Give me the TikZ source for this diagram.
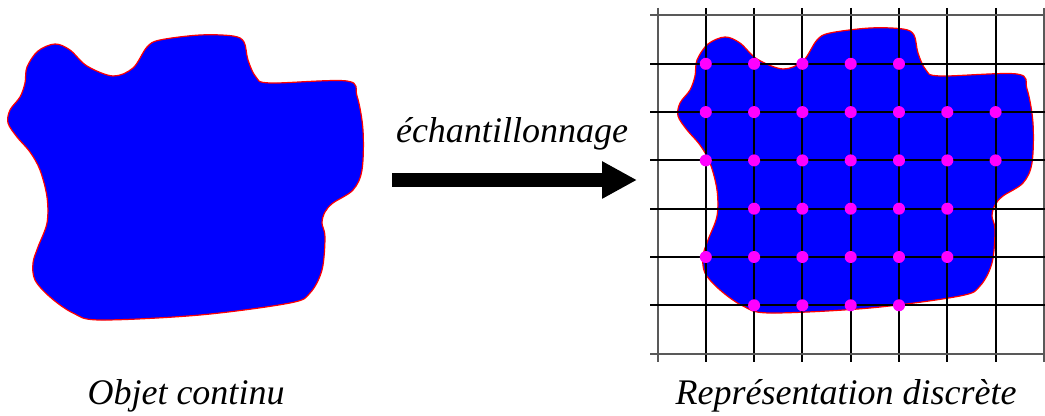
\documentclass[tikz,border=0pt]{standalone}
\usepackage{fontspec}
\setmainfont{Liberation Serif}
\usetikzlibrary{arrows.meta}
\definecolor{shapeblue}{RGB}{0,0,255}
\definecolor{dotmag}{RGB}{255,0,255}
\tikzset{
  blob/.style={fill=shapeblue, draw=red, line width=0.6pt},
  gridline/.style={black, line width=1pt},
  gridedge/.style={black!65, line width=1pt},
  sample/.style={circle, fill=dotmag, inner sep=0pt, minimum size=6pt},
  caption/.style={font=\itshape\fontsize{18}{22}\selectfont, anchor=base, inner sep=0pt},
  bigarrow/.style={line width=7pt, -{Triangle[length=17.5pt,width=17.5pt]}}
}
\newcommand{\blobpath}{plot[smooth cycle, tension=0.55] coordinates {
(55,44) (70,50) (87,66) (113,76) (133,68) (147,47) (160,40) (200,35) (233,36) (244,42)
(248,60) (256,77) (270,83) (347,81) (357,96) (363,130) (362,170) (353,190)
(333,203) (325,212) (322,223) (325,237) (322,270) (310,293) (290,303) (200,315)
(100,320) (73,313) (50,297) (35,280) (33,263) (38,247) (47,223) (47,197)
(40,170) (30,152) (17,137) (8,123) (10,110) (20,97) (25,83) (27,67) (38,51)}}
\begin{document}
\begin{tikzpicture}[x=0.5pt,y=-0.5pt]
\useasboundingbox (0,0) rectangle (1045,416);
% continuous object
\path[blob] \blobpath;
% discrete representation
\begin{scope}[shift={(670,-7)}]
\path[blob] \blobpath;
\end{scope}
% grid
\foreach \i in {1,...,7} {
  \draw[gridline] (657.5+48.3*\i,8) -- (657.5+48.3*\i,362);
}
\draw[gridedge] (657.5,8) -- (657.5,362);
\draw[gridedge] (1043.9,8) -- (1043.9,362);
\foreach \j in {1,...,6} {
  \draw[gridline] (650,15.5+48.3*\j) -- (1045,15.5+48.3*\j);
}
\draw[gridedge] (650,15.5) -- (1045,15.5);
\draw[gridedge] (650,353.6) -- (1045,353.6);
% samples
\foreach \j/\cols in {1/{1,2,3,4,5},2/{1,2,3,4,5,6,7},3/{1,2,3,4,5,6,7},4/{2,3,4,5,6},5/{1,2,3,4,5,6},6/{2,3,4,5}} {
  \foreach \i in \cols {
    \node[sample] (s\i\j) at (657.5+48.3*\i,15.5+48.3*\j) {};
  }
}
% arrow and labels
\coordinate (arrS) at (392,180);
\coordinate (arrE) at (637,180);
\draw[bigarrow] (arrS) -- (arrE);
\node[caption] (lab) at (512,143) {échantillonnage};
\node[caption] (cap1) at (186,405) {Objet continu};
\node[caption] (cap2) at (846,405) {Représentation discrète};
\end{tikzpicture}
\end{document}
